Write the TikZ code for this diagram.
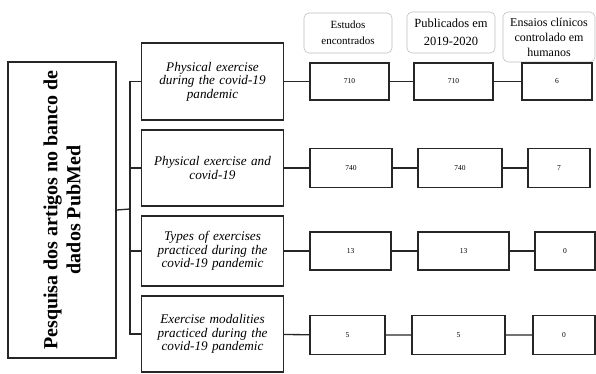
\documentclass[tikz,border=0pt]{standalone}
\usepackage{fontspec}
\setmainfont{Liberation Serif}
\usetikzlibrary{positioning}
\tikzstyle{mainbox} = [rectangle, draw=black!85, line width=1.4pt, inner sep=2pt, text centered]
\tikzstyle{querybox} = [rectangle, draw=black!85, line width=1.4pt, minimum width=139pt, text width=135pt, align=center, font=\fontsize{13.2}{13.5}\selectfont\itshape]
\tikzstyle{countbox} = [rectangle, draw=black!85, line width=1.4pt, font=\fontsize{7.5}{9}\selectfont]
\tikzstyle{headbox} = [rectangle, rounded corners=5pt, draw=black!25, line width=0.6pt, align=center]
\tikzstyle{link} = [line width=1.3pt, black!85]

\begin{document}
\begin{tikzpicture}[x=1pt, y=-1pt]
      \useasboundingbox (0,0) rectangle (596,374);
      % search box
      \node (pesquisa) [mainbox, rotate=90, minimum width=296pt, minimum height=108pt, align=center, font=\fontsize{20}{23}\selectfont\bfseries] at (62,210) {Pesquisa dos artigos no banco de\\dados PubMed};
      % queries
      \node (q1) [querybox, minimum height=77pt] at (212.5,81.5) {Physical exercise\\during the covid-19\\pandemic};
      \node (q2) [querybox, minimum height=76pt] at (212.5,168) {Physical exercise and\\covid-19};
      \node (q3) [querybox, minimum height=70pt] at (212.5,251) {Types of exercises\\practiced during the\\covid-19 pandemic};
      \node (q4) [querybox, minimum height=76pt] at (212.5,334) {Exercise modalities\\practiced during the\\covid-19 pandemic};
      % column headers
      \node (head1) [headbox, minimum width=88pt, minimum height=40pt, font=\fontsize{11}{16}\selectfont] at (348,33) {Estudos\\encontrados};
      \node (head2) [headbox, minimum width=88pt, minimum height=41pt, font=\fontsize{12.5}{18}\selectfont] at (451,32.5) {Publicados em\\2019-2020};
      \node (head3) [headbox, minimum width=92pt, minimum height=50pt, font=\fontsize{12}{15}\selectfont] at (549,37) {Ensaios clínicos\\controlado em\\humanos};
      % counts
      \node (a1) [countbox, minimum width=79pt, minimum height=37pt] at (349.5,81.5) {710};
      \node (b1) [countbox, minimum width=79pt, minimum height=37pt] at (453.5,81.5) {710};
      \node (c1) [countbox, minimum width=70pt, minimum height=37pt] at (557,81.5) {6};
      \node (a2) [countbox, minimum width=82pt, minimum height=39pt] at (351,168) {740};
      \node (b2) [countbox, minimum width=84pt, minimum height=39pt] at (460,168) {740};
      \node (c2) [countbox, minimum width=62pt, minimum height=39pt] at (559,168) {7};
      \node (a3) [countbox, minimum width=81pt, minimum height=38pt] at (350.5,251) {13};
      \node (b3) [countbox, minimum width=91pt, minimum height=38pt] at (463.5,251) {13};
      \node (c3) [countbox, minimum width=60pt, minimum height=38pt] at (565,251) {0};
      \node (a4) [countbox, minimum width=75pt, minimum height=39pt] at (347.5,335) {5};
      \node (b4) [countbox, minimum width=93pt, minimum height=39pt] at (458.5,335) {5};
      \node (c4) [countbox, minimum width=62pt, minimum height=39pt] at (564,335) {0};

      \coordinate (trunk) at (130,209);
      \draw [link] (pesquisa.south) -- (trunk);
      \draw [link] (trunk) |- (q1.west);
      \draw [link] (trunk) |- (q2.west);
      \draw [link] (trunk) |- (q3.west);
      \draw [link] (trunk) |- (q4.west);

      \draw [link] (q1) -- (a1) -- (b1) -- (c1);
      \draw [link] (q2) -- (a2) -- (b2) -- (c2);
      \draw [link] (q3) -- (a3) -- (b3) -- (c3);
      \draw [link] (q4) -- (a4) -- (b4) -- (c4);
    \end{tikzpicture}
\end{document}
